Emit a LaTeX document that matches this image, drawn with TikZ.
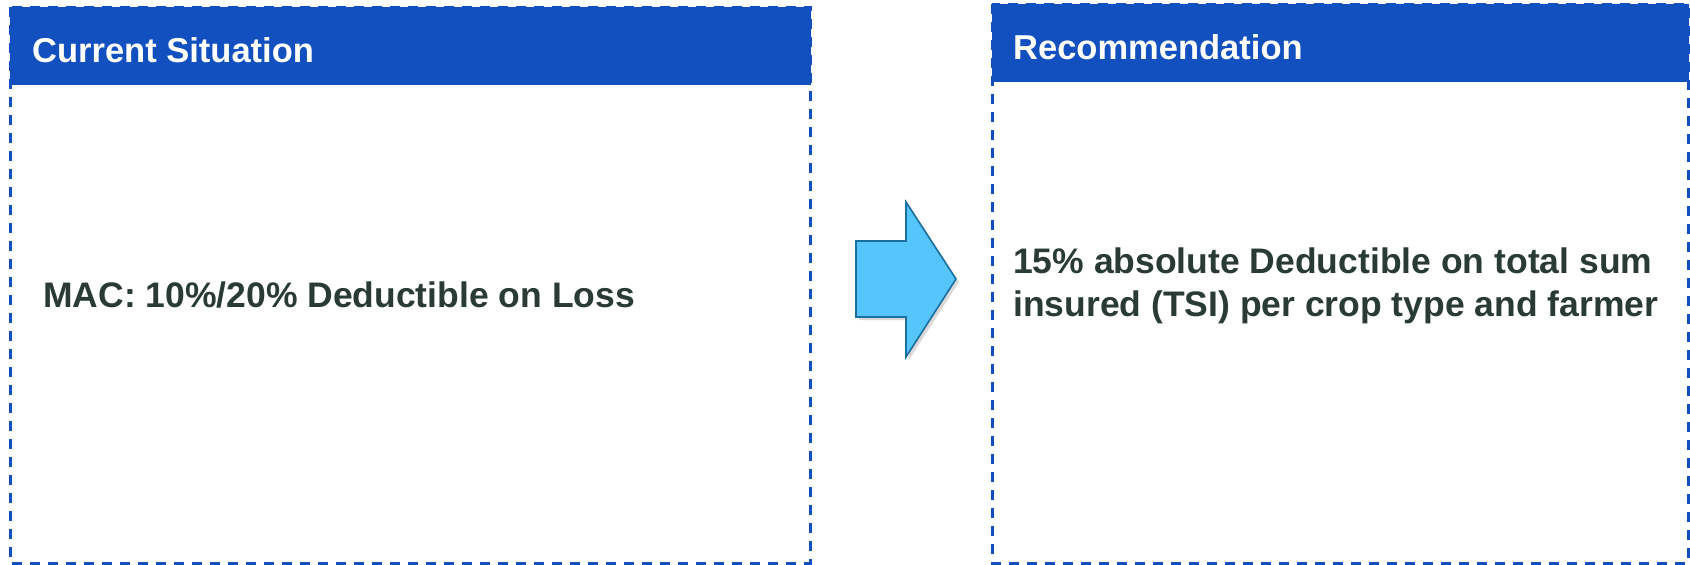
\documentclass[tikz,border=0pt]{standalone}
\usepackage{fontspec}
\setmainfont{Liberation Sans}
\usetikzlibrary{shadows}
\definecolor{hdrblue}{HTML}{1150BE}
\definecolor{bodytext}{HTML}{2A3B34}
\definecolor{arrowfill}{HTML}{56C5FB}
\definecolor{arrowline}{HTML}{1B6F9F}
\tikzset{
  panel/.style={draw=hdrblue, line width=3pt, dash pattern=on 10pt off 8pt},
  header/.style={fill=hdrblue, draw=none},
  hdrtext/.style={text=white, font=\bfseries\fontsize{34.5}{40}\selectfont, inner sep=0pt, anchor=base west},
  bodytxt/.style={text=bodytext, font=\bfseries\fontsize{35.5}{43}\selectfont, inner sep=0pt, anchor=base west, align=left},
  bigarrow/.style={fill=arrowfill, draw=arrowline, line width=1.6pt, line join=miter,
    drop shadow={opacity=0.3, shadow xshift=3pt, shadow yshift=-3pt}}
}
\begin{document}
\begin{tikzpicture}[x=1pt,y=-1pt]
\useasboundingbox (0,0) rectangle (1690,565);
% left panel
\draw[panel] (10,7) rectangle (810,563);
\fill[header] (10,7) rectangle (811,85);
\node[hdrtext] (lhdr) at (32,62) {Current Situation};
\node[bodytxt] (ltxt) at (43,307) {MAC: 10\%/20\% Deductible on Loss};
% right panel
\draw[panel] (992,4) rectangle (1688,563);
\fill[header] (992,4) rectangle (1689,82);
\node[hdrtext] (rhdr) at (1013,59) {Recommendation};
\node[bodytxt] (rtxt) at (1013,316) {15\% absolute Deductible on total sum\\insured (TSI) per crop type and farmer};
% arrow
\draw[bigarrow] (856,241) -- (906,241) -- (906,202) -- (956,279) -- (906,357) -- (906,317) -- (856,317) -- cycle;
\end{tikzpicture}
\end{document}
